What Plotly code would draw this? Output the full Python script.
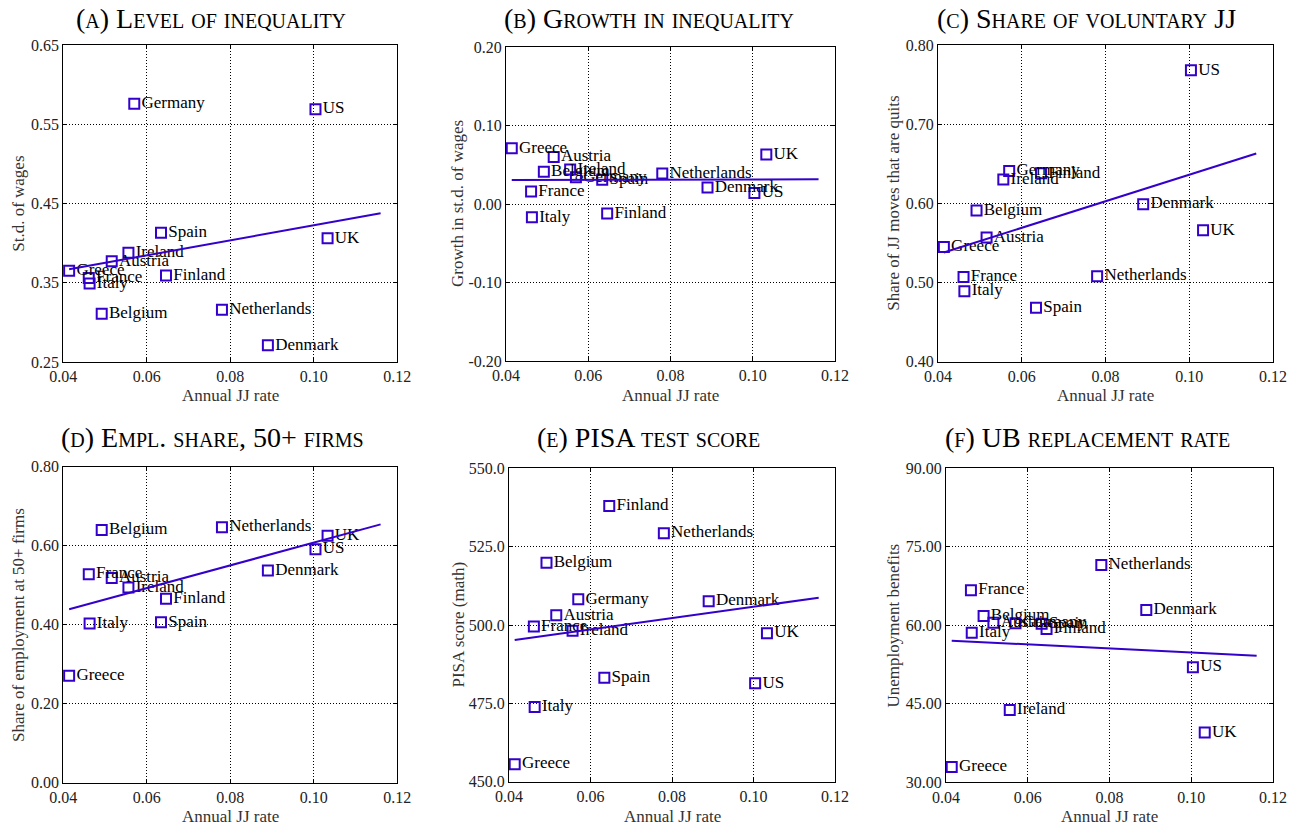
import plotly.graph_objects as go

countries = ["Greece", "France", "Italy", "Belgium", "Austria", "Ireland", "Germany",
             "Spain", "Finland", "Netherlands", "Denmark", "US", "UK"]
jj_rate = [0.0414, 0.0461, 0.0463, 0.0492, 0.0516, 0.0556, 0.0570,
           0.0634, 0.0646, 0.0780, 0.0890, 0.1004, 0.1033]

std_wages = [0.365, 0.356, 0.349, 0.311, 0.377, 0.388, 0.576,
             0.413, 0.359, 0.316, 0.271, 0.569, 0.406]
growth_std = [0.071, 0.016, -0.017, 0.041, 0.060, 0.044, 0.034,
              0.031, -0.012, 0.039, 0.021, 0.014, 0.063]
share_quits = [0.545, 0.507, 0.489, 0.591, 0.557, 0.630, 0.641,
               0.468, 0.638, 0.508, 0.599, 0.768, 0.566]
share_50plus = [0.271, 0.528, 0.403, 0.640, 0.518, 0.494, None,
                0.406, 0.466, 0.647, 0.537, 0.591, 0.625]
pisa_math = [455.6, 499.5, 473.8, 519.9, 503.1, 498.2, 508.2,
             483.2, 538.0, 529.3, 507.6, 481.4, 497.4]
ub_rate = [32.9, 66.7, 58.6, 61.8, 60.5, 43.8, 60.4,
           60.3, 59.3, 71.5, 62.9, 52.0, 39.5]

# fitted line values (at x = min rate and x = fit_x_end)
fit_x_end = 0.116
fit_left = [0.367, 0.0305, 0.538, 0.439, 495.2, 57.06]
fit_right = [0.4376, 0.0314, 0.663, 0.654, 508.7, 54.2]

titles = ["(a) Level of inequality", "(b) Growth in inequality", "(c) Share of voluntary JJ",
          "(d) Empl. share, 50+ firms", "(e) PISA test score", "(f) UB replacement rate"]
ylabels = ["St.d. of wages", "Growth in st.d. of wages", "Share of JJ moves that are quits",
           "Share of employment at 50+ firms", "PISA score (math)", "Unemployment benefits"]
xlabel = "Annual JJ rate"
x_ticks = [0.04, 0.06, 0.08, 0.10, 0.12]
y_ticks = [
    [0.25, 0.35, 0.45, 0.55, 0.65],
    [-0.20, -0.10, 0.00, 0.10, 0.20],
    [0.40, 0.50, 0.60, 0.70, 0.80],
    [0.00, 0.20, 0.40, 0.60, 0.80],
    [450.0, 475.0, 500.0, 525.0, 550.0],
    [30.00, 45.00, 60.00, 75.00, 90.00],
]
y_fmt = ["{:.2f}", "{:.2f}", "{:.2f}", "{:.2f}", "{:.1f}", "{:.2f}"]
series = [std_wages, growth_std, share_quits, share_50plus, pisa_math, ub_rate]

W, H = 1296, 826
# plot-area pixel boxes (left, right, top, bottom)
boxes = [
    (63.3, 397.3, 45, 362), (506, 835, 47, 361), (938, 1273, 45, 361.7),
    (63.3, 397.3, 466.7, 782.7), (509, 835, 468.3, 781.7), (946, 1273, 468.3, 782.3),
]
title_pos = [(211, 18), (649, 18), (1086, 18), (212, 437), (649, 437), (1087, 437)]
ylab_x = [18.3, 457, 893.3, 18.3, 457.5, 893.3]
xlab_y = [395, 395, 395, 816, 816, 816]

COL = "#3300CC"
FONT = "Liberation Serif"

fig = go.Figure()
for i in range(6):
    ax = "" if i == 0 else str(i + 1)
    xs, ys, ts = [], [], []
    for c, x, y in zip(countries, jj_rate, series[i]):
        if y is not None:
            xs.append(x); ys.append(y); ts.append(c)
    fig.add_trace(go.Scatter(
        x=xs, y=ys, text=ts, mode="markers+text", textposition="middle right",
        marker=dict(symbol="square-open", size=10, color=COL, line=dict(width=2, color=COL)),
        textfont=dict(family=FONT, size=17, color="black"),
        xaxis="x" + ax, yaxis="y" + ax, showlegend=False, cliponaxis=False,
    ))
    fig.add_trace(go.Scatter(
        x=[min(xs), fit_x_end], y=[fit_left[i], fit_right[i]], mode="lines",
        line=dict(color=COL, width=2), xaxis="x" + ax, yaxis="y" + ax, showlegend=False,
    ))
    l, r, t, b = boxes[i]
    common = dict(showline=True, linecolor="black", linewidth=1, mirror="allticks",
                  ticks="inside", ticklen=4, tickcolor="black", automargin=False,
                  showgrid=True, gridcolor="black", griddash="1px,2px", gridwidth=1,
                  zeroline=False, tickfont=dict(family=FONT, size=16, color="#222"))
    fig.update_layout(**{
        "xaxis" + ax: dict(domain=[l / W, r / W], anchor="y" + ax, range=[0.04, 0.12],
                           tickvals=x_ticks, ticktext=["{:.2f}".format(v) for v in x_ticks],
                           **common),
        "yaxis" + ax: dict(domain=[1 - b / H, 1 - t / H], anchor="x" + ax,
                           range=[y_ticks[i][0], y_ticks[i][-1]], tickvals=y_ticks[i],
                           ticktext=[y_fmt[i].format(v) for v in y_ticks[i]],
                           **common),
    })
    tx, ty = title_pos[i]
    fig.add_annotation(text=titles[i], x=tx / W, y=1 - ty / H, xref="paper", yref="paper",
                       showarrow=False, xanchor="center", yanchor="middle",
                       font=dict(family=FONT, size=28, color="black", variant="small-caps"))
    fig.add_annotation(text=ylabels[i], x=ylab_x[i] / W, y=1 - (t + b) / 2 / H,
                       xref="paper", yref="paper", showarrow=False, textangle=-90,
                       xanchor="center", yanchor="middle",
                       font=dict(family=FONT, size=17, color="#333"))
    fig.add_annotation(text=xlabel, x=(l + r) / 2 / W, y=1 - xlab_y[i] / H,
                       xref="paper", yref="paper", showarrow=False,
                       xanchor="center", yanchor="middle",
                       font=dict(family=FONT, size=17, color="#333"))

fig.update_layout(width=W, height=H, margin=dict(l=0, r=0, t=0, b=0),
                  paper_bgcolor="white", plot_bgcolor="white")
fig.write_html("out.html", config={"displayModeBar": False},
               post_script="document.body.style.margin='0';document.body.style.overflow='hidden';")
